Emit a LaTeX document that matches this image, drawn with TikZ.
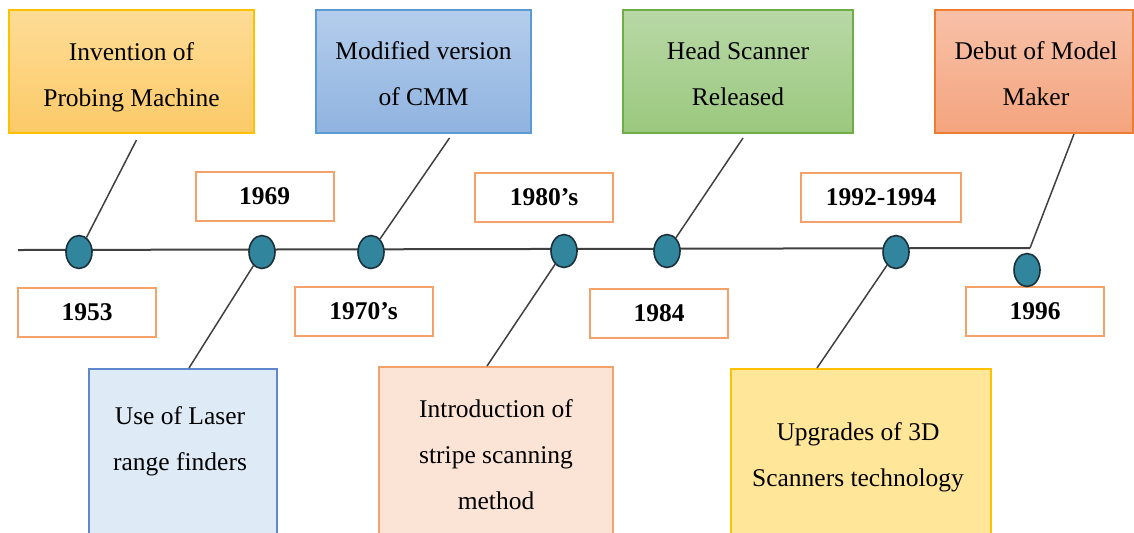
\documentclass[tikz,border=0pt]{standalone}
\usepackage{fontspec}
\setmainfont{Liberation Serif}
\usetikzlibrary{shapes.geometric,calc}

\definecolor{yelline}{RGB}{255,192,0}
\definecolor{yeltop}{RGB}{253,220,150}
\definecolor{yelbot}{RGB}{252,202,104}
\definecolor{bluline}{RGB}{91,155,213}
\definecolor{blutop}{RGB}{180,205,236}
\definecolor{blubot}{RGB}{143,179,223}
\definecolor{grnline}{RGB}{112,173,71}
\definecolor{grntop}{RGB}{184,216,166}
\definecolor{grnbot}{RGB}{155,200,126}
\definecolor{salline}{RGB}{237,125,49}
\definecolor{saltop}{RGB}{248,193,168}
\definecolor{salbot}{RGB}{244,164,126}
\definecolor{yearline}{RGB}{244,162,106}
\definecolor{laserfill}{RGB}{222,234,246}
\definecolor{laserline}{RGB}{95,135,205}
\definecolor{introfill}{RGB}{251,228,214}
\definecolor{upgfill}{RGB}{255,230,153}
\definecolor{dotfill}{RGB}{49,134,158}
\definecolor{dotline}{RGB}{28,48,60}
\definecolor{axis}{RGB}{64,64,64}

\tikzset{
  txt/.style={font=\fontsize{12.75}{23}\selectfont, align=center},
  topbox/.style={draw, line width=1pt, minimum height=61.5pt, inner sep=0pt},
  year/.style={txt, font=\fontsize{12.75}{23}\selectfont\bfseries, draw=yearline, line width=1pt,
    fill=white, minimum width=69pt, minimum height=24.5pt, inner sep=0pt},
  lowbox/.style={draw, line width=1pt, anchor=north, minimum height=96pt, inner sep=0pt},
  dot/.style={ellipse, draw=dotline, line width=0.8pt, fill=dotfill,
    minimum width=13pt, minimum height=16.5pt, inner sep=0pt},
  stem/.style={draw=axis, line width=0.75pt},
}

\begin{document}
\begin{tikzpicture}[x=0.5pt, y=-0.5pt]
  \clip (0, 0) rectangle (1134, 532);

  \node[topbox, draw=yelline, top color=yeltop, bottom color=yelbot, minimum width=122.5pt]
    (inv) at (131.5, 71.5) {};
  \node[topbox, draw=bluline, top color=blutop, bottom color=blubot, minimum width=107.5pt]
    (cmm) at (423.5, 71.5) {};
  \node[topbox, draw=grnline, top color=grntop, bottom color=grnbot, minimum width=115pt]
    (head) at (738, 71.5) {};
  \node[topbox, draw=salline, top color=saltop, bottom color=salbot, minimum width=99pt]
    (debut) at (1034, 71.5) {};
  \node[txt] (invtxt) at (131.5, 77) {Invention of\\Probing Machine};
  \node[txt] (cmmtxt) at (423.5, 74) {Modified version\\of CMM};
  \node[txt] (headtxt) at (738, 74) {Head Scanner\\Released};
  \node[txt] (debuttxt) at (1036, 74) {Debut of Model\\Maker};

  \node[year] (y53) at (87, 312) {1953};
  \node[year] (y69) at (264.5, 196.5) {1969};
  \node[year] (y70) at (363.5, 311) {1970’s};
  \node[year] (y80) at (544, 197.5) {1980’s};
  \node[year] (y84) at (659, 313) {1984};
  \node[year, minimum width=80pt] (y92) at (881, 197.5) {1992-1994};
  \node[year] (y96) at (1035, 311) {1996};

  \node[lowbox, draw=laserline, fill=laserfill, minimum width=94pt] (laser) at (183, 368) {};
  \node[lowbox, draw=yearline, fill=introfill, minimum width=117pt] (intro) at (496, 366) {};
  \node[lowbox, draw=yelline, fill=upgfill, minimum width=130pt] (upg) at (861, 368) {};
  \node[txt] (lasertxt) at (180, 441) {Use of Laser\\range finders};
  \node[txt] (introtxt) at (496, 455) {Introduction of\\stripe scanning\\method};
  \node[txt] (upgtxt) at (858, 457) {Upgrades of 3D\\Scanners technology};

  \coordinate (tstart) at (18, 250);
  \coordinate (tend) at (1030, 248);
  \draw[axis, line width=1pt] (tstart) -- (tend);

  \node[dot] (d1) at (79, 252) {};
  \node[dot] (d2) at (262, 252) {};
  \node[dot] (d3) at (371, 252) {};
  \node[dot] (d4) at (564, 251) {};
  \node[dot] (d5) at (667, 251) {};
  \node[dot] (d6) at (896, 252) {};
  \node[dot] (d7) at (1027, 270) {};

  \begin{scope}[stem]
    \draw ($(inv.south)+(5, 6)$) -- (d1);
    \draw (d2) -- ($(laser.north)+(6, 0)$);
    \draw ($(cmm.south)+(26, 4)$) -- (d3);
    \draw (d4) -- ($(intro.north)+(-9, 0)$);
    \draw ($(head.south)+(5, 4)$) -- (d5);
    \draw (d6) -- ($(upg.north)+(-44, 0)$);
    \draw ($(debut.south)+(40, 0)$) -- (tend);
  \end{scope}
\end{tikzpicture}
\end{document}
